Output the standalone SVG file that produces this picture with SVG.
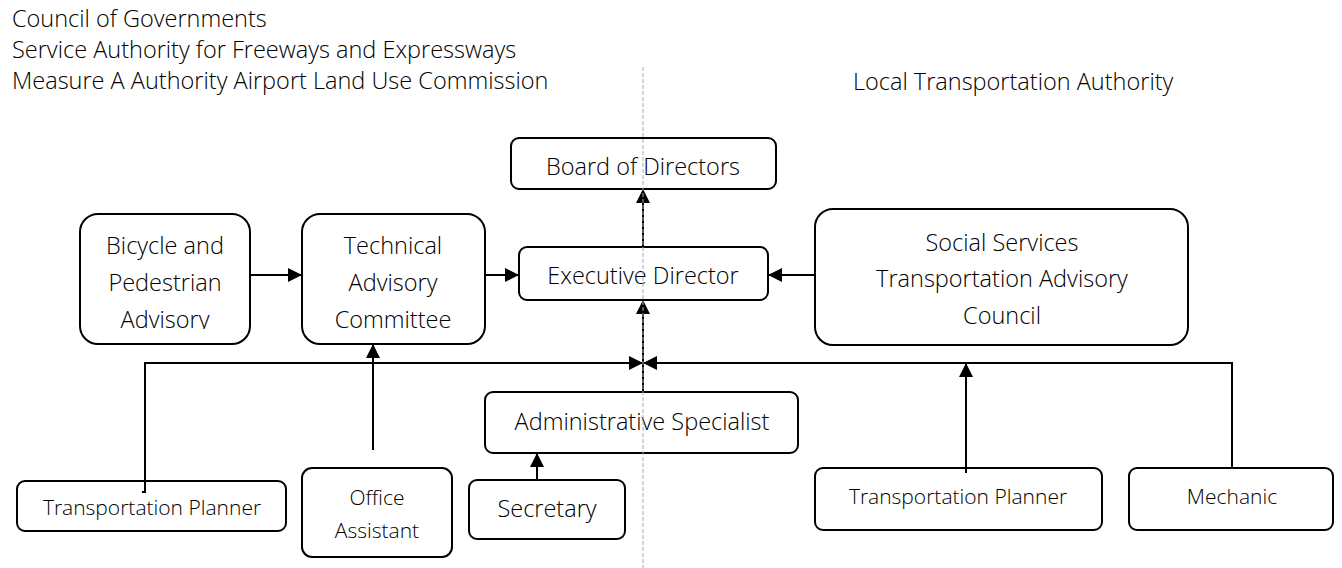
<svg xmlns="http://www.w3.org/2000/svg" width="1342" height="568" viewBox="0 0 1342 568">
<style>
text{font-family:"Open Sans","Noto Sans","Liberation Sans",sans-serif;font-weight:300;fill:#000;}
.hdr{font-size:23.5px;}
.lg{font-size:23.5px;text-anchor:middle;}
.sm{font-size:21px;text-anchor:middle;}
.box{fill:#fff;stroke:#000;stroke-width:2;}
.con{fill:none;stroke:#000;stroke-width:2;}
.div{fill:none;stroke:#aaa;stroke-width:1;stroke-dasharray:4 2;}
</style>
<defs>
<marker id="ah" viewBox="0 0 14 14" refX="14" refY="7" markerWidth="14" markerHeight="14" markerUnits="userSpaceOnUse" orient="auto">
<path d="M0,0 L14,7 L0,14 Z" fill="#000"/>
</marker>
<clipPath id="clipBike"><rect x="80" y="214" width="172" height="115"/></clipPath>
</defs>
<rect width="1342" height="568" fill="#fff"/>
<g id="headers">
<text class="hdr" x="12" y="27">Council of Governments</text>
<text class="hdr" x="12" y="58">Service Authority for Freeways and Expressways</text>
<text class="hdr" x="12" y="89">Measure A Authority Airport Land Use Commission</text>
<text class="hdr" x="853" y="90">Local Transportation Authority</text>
</g>
<g id="nodes">
<g id="board"><rect class="box" x="511" y="138" width="265" height="51" rx="8"/><text class="lg" x="643" y="175">Board of Directors</text></g>
<g id="exec"><rect class="box" x="519" y="247" width="249" height="53" rx="8"/><text class="lg" x="643" y="284">Executive Director</text></g>
<g id="bike"><rect class="box" x="80" y="214" width="170" height="130" rx="18"/><g clip-path="url(#clipBike)"><text class="lg" x="165" y="254">Bicycle and</text><text class="lg" x="165" y="291">Pedestrian</text><text class="lg" x="165" y="328">Advisory</text></g></g>
<g id="tac"><rect class="box" x="302" y="214" width="183" height="130" rx="18"/><text class="lg" x="393" y="254">Technical</text><text class="lg" x="393" y="291">Advisory</text><text class="lg" x="393" y="328">Committee</text></g>
<g id="social"><rect class="box" x="815" y="209" width="373" height="136" rx="18"/><text class="lg" x="1002" y="251">Social Services</text><text class="lg" x="1002" y="287">Transportation Advisory</text><text class="lg" x="1002" y="324">Council</text></g>
<g id="admin"><rect class="box" x="485" y="392" width="313" height="61" rx="8"/><text class="lg" x="642" y="430">Administrative Specialist</text></g>
<g id="secretary"><rect class="box" x="469" y="480" width="156" height="59" rx="8"/><text class="lg" x="547" y="517">Secretary</text></g>
<g id="tp-left"><rect class="box" x="17" y="481" width="269" height="50" rx="8"/><text class="sm" x="152" y="515">Transportation Planner</text></g>
<g id="office"><rect class="box" x="302" y="468" width="150" height="89" rx="10"/><text class="sm" x="377" y="505">Office</text><text class="sm" x="377" y="538">Assistant</text></g>
<g id="tp-right"><rect class="box" x="815" y="468" width="287" height="62" rx="8"/><text class="sm" x="958" y="504">Transportation Planner</text></g>
<g id="mechanic"><rect class="box" x="1129" y="468" width="204" height="62" rx="8"/><text class="sm" x="1232" y="504">Mechanic</text></g>
</g>
<g id="connectors">
<line class="con" x1="250" y1="275" x2="302" y2="275" marker-end="url(#ah)"/>
<line class="con" x1="485" y1="275" x2="519" y2="275" marker-end="url(#ah)"/>
<line class="con" x1="815" y1="275" x2="768" y2="275" marker-end="url(#ah)"/>
<line class="con" x1="643" y1="247" x2="643" y2="189" marker-end="url(#ah)"/>
<line class="con" x1="643" y1="392" x2="643" y2="300" marker-end="url(#ah)"/>
<path class="con" d="M142,492 H145 V363 H643" marker-end="url(#ah)"/>
<path class="con" d="M1232,468 V363 H643" marker-end="url(#ah)"/>
<line class="con" x1="373" y1="450" x2="373" y2="344" marker-end="url(#ah)"/>
<line class="con" x1="966" y1="473" x2="966" y2="363" marker-end="url(#ah)"/>
<line class="con" x1="537" y1="480" x2="537" y2="453" marker-end="url(#ah)"/>
</g>
<line class="div" x1="643" y1="67" x2="643" y2="568"/>
</svg>
